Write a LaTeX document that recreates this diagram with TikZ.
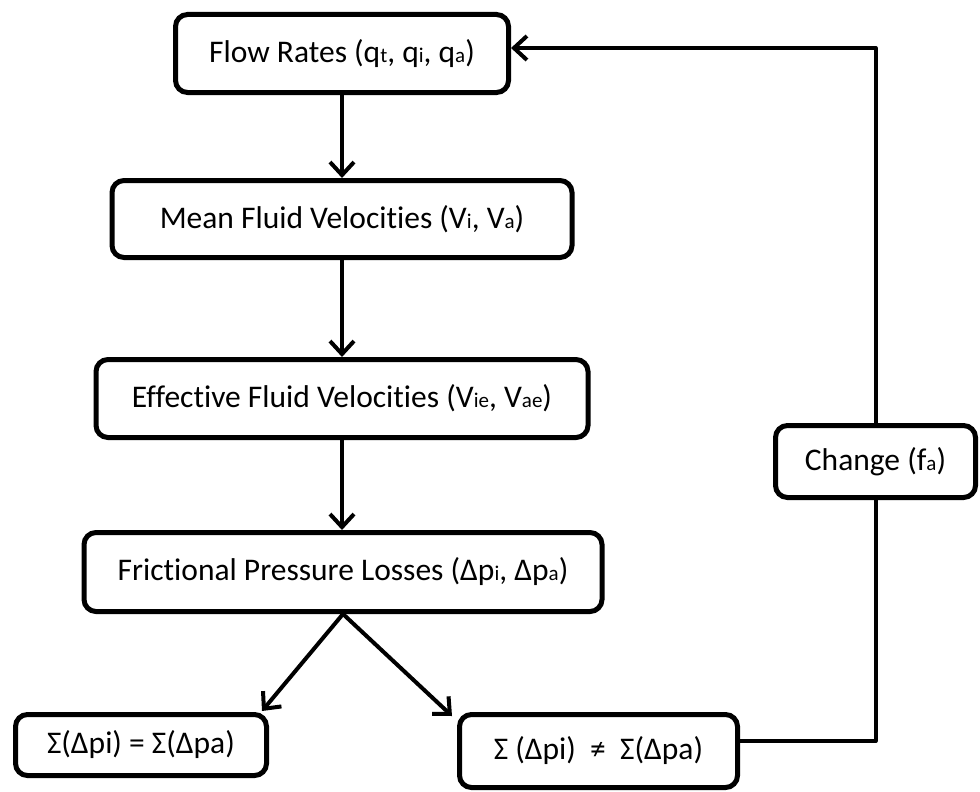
\documentclass[tikz,border=0pt]{standalone}
\usepackage{fontspec}
\setmainfont{Carlito}[Ligatures={NoCommon}]
\usetikzlibrary{arrows.meta,calc}
\newcommand{\sbs}[1]{{\fontsize{21}{21}\selectfont #1}}
\tikzset{
  box/.style={draw=black, line width=5pt, rounded corners=12pt, fill=white,
    inner sep=0pt, align=center, font=\fontsize{31.5}{37}\selectfont},
  conn/.style={draw=black, line width=4pt, line join=round},
  arr/.style={conn, -{Straight Barb[length=13pt,width=24pt,line width=4pt]}}
}
\begin{document}
\begin{tikzpicture}[x=1pt,y=1pt]
\useasboundingbox (0,0) rectangle (980,-792);
\node[box, minimum width=333pt, minimum height=78pt] (b1) at (342,-53.5) {Flow Rates (q\sbs{t}, q\sbs{i}, q\sbs{a})};
\node[box, minimum width=460pt, minimum height=77pt] (b2) at (342,-219) {Mean Fluid Velocities (V\sbs{i}, V\sbs{a})};
\node[box, minimum width=492pt, minimum height=78pt] (b3) at (342,-398.5) {Effective Fluid Velocities (V\sbs{ie}, V\sbs{ae})};
\node[box, minimum width=518pt, minimum height=79pt] (b4) at (343,-572) {Frictional Pressure Losses (Δp\sbs{i}, Δp\sbs{a})};
\node[box, minimum width=251pt, minimum height=61pt] (b5) at (141,-745) {Σ(Δpi) = Σ(Δpa)};
\node[box, minimum width=278pt, minimum height=73pt] (b6) at (598.5,-751) {Σ (Δpi)\ \ ≠\ \ Σ(Δpa)};
\node[box, minimum width=200pt, minimum height=72pt] (b7) at (875.5,-461.5) {Change (f\sbs{a})};
\coordinate (tl) at ($(b5.north east)+(-7,1)$);
\coordinate (tr) at ($(b6.north west)+(-5,-4)$);
\coordinate (c1) at (865,-741);
\coordinate (c2) at (865,-48);
\coordinate (c3) at (b1.east |- c2);
\draw[arr] (b1.south) -- (b1.south |- b2.north);
\draw[arr] (b2.south) -- (b2.south |- b3.north);
\draw[arr] (b3.south) -- (b3.south |- b4.north);
\draw[arr] (b4.south) -- (tl);
\draw[arr] (b4.south) -- (tr);
\draw[conn] (b6.east |- c1) -- (c1) -- (c1 -| b7.south) -- (b7.south);
\draw[arr] (b7.north) -- (b7.north |- c2) -- (c3);
\end{tikzpicture}
\end{document}
